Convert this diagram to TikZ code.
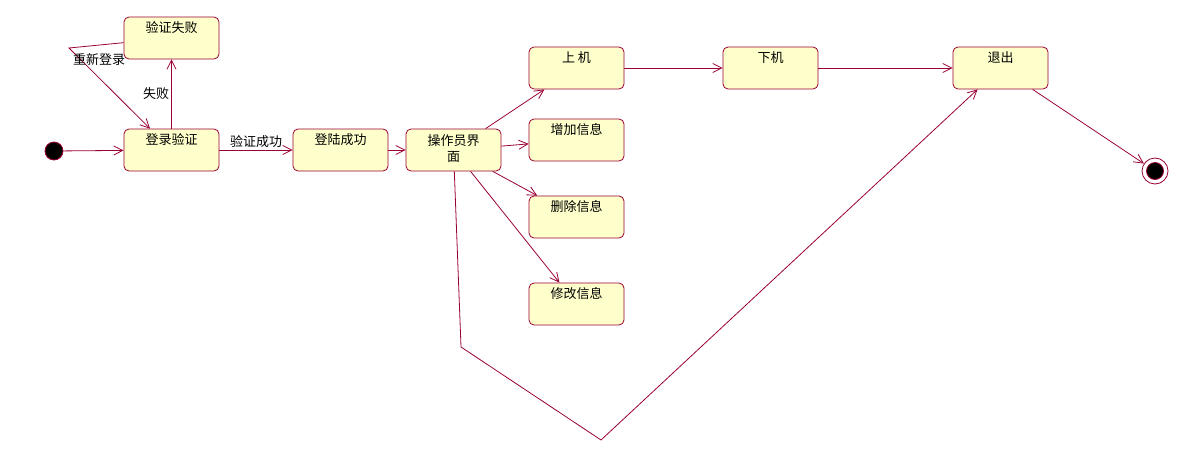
\documentclass[tikz,border=0pt]{standalone}
\usepackage{fontspec}
\setmainfont{Noto Sans CJK SC}
\usetikzlibrary{arrows.meta}
\definecolor{rosered}{RGB}{153,0,51}
\definecolor{roseyellow}{RGB}{255,255,204}
\begin{document}
\begin{tikzpicture}[x=1pt, y=-1pt, line width=0.8pt,
state/.style={rectangle, draw=rosered, fill=roseyellow, rounded corners=5pt,
  minimum width=95pt, inner sep=3pt, text height=12pt, text depth=24pt,
  font=\fontsize{13}{16}\selectfont},
trans/.style={draw=rosered, -{Straight Barb[length=9pt,width=9pt]}},
lbl/.style={font=\fontsize{13}{16}\selectfont, inner sep=2pt},
startdot/.style={circle, draw=rosered, fill=black, minimum size=18pt, inner sep=0pt},
enddot/.style={circle, draw=rosered, fill=white, minimum size=26pt, inner sep=0pt,
  path picture={\filldraw[fill=black, draw=rosered] (path picture bounding box.center) circle (8.5pt);}}
    ]
  \useasboundingbox (0,0) rectangle (1201,450);

  \node[startdot] (start) at (54,151) {};
  \node[state] (yzsb) at (171.5,38) {验证失败};
  \node[state] (dlyz) at (171.5,150) {登录验证};
  \node[state] (dlcg) at (340.5,150) {登陆成功};
  \node[state, align=center, text height=29pt, text depth=7pt] (czy) at (453.5,150) {操作员界\\面};
  \node[state] (sj) at (576.5,68) {上 机};
  \node[state] (zjxx) at (576.5,140) {增加信息};
  \node[state] (scxx) at (576.5,217) {删除信息};
  \node[state] (xgxx) at (576.5,304) {修改信息};
  \node[state] (xj) at (770.5,68) {下机};
  \node[state] (tc) at (1000.5,68) {退出};
  \node[enddot] (end) at (1155,171) {};

  \coordinate (b0) at (69,48);
  \coordinate (b1) at (461,347);
  \coordinate (b2) at (601,440);

  \draw[trans] (start) -- (dlyz);
  \draw[trans] (dlyz) -- node[lbl, above] (lcg) {验证成功} (dlcg);
  \draw[trans] (dlyz) -- node[lbl, left] (lsb) {失败} (yzsb);
  \draw[trans] (yzsb) -- (b0) -- (dlyz);
  \node[lbl] (lcx) at (99,60) {重新登录};
  \draw[trans] (dlcg) -- (czy);
  \draw[trans] (czy) -- (sj);
  \draw[trans] (czy) -- (zjxx);
  \draw[trans] (czy) -- (scxx);
  \draw[trans] (czy) -- (xgxx);
  \draw[trans] (czy) -- (b1) -- (b2) -- (tc);
  \draw[trans] (sj) -- (xj);
  \draw[trans] (xj) -- (tc);
  \draw[trans] (tc) -- (end);
\end{tikzpicture}
\end{document}
